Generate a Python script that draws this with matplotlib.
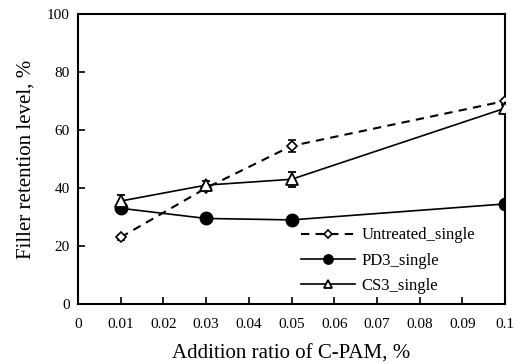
import matplotlib

matplotlib.use("Agg")
import matplotlib.pyplot as plt

plt.rcParams["font.family"] = ["Liberation Serif", "DejaVu Serif"]

x = [0.01, 0.03, 0.05, 0.1]
untreated = [23.0, 40.0, 54.5, 70.0]
untreated_err = [0.8, 1.0, 2.2, 0.8]
pd3 = [33.0, 29.5, 29.0, 34.5]
pd3_err = [0.5, 0.5, 0.5, 0.5]
cs3 = [35.5, 41.0, 43.0, 67.5]
cs3_err = [2.0, 1.5, 2.5, 1.0]

x_ticks = [0, 0.01, 0.02, 0.03, 0.04, 0.05, 0.06, 0.07, 0.08, 0.09, 0.1]
x_tick_labels = ["0", "0.01", "0.02", "0.03", "0.04", "0.05", "0.06", "0.07", "0.08", "0.09", "0.1"]
y_ticks = [0, 20, 40, 60, 80, 100]

fig = plt.figure(figsize=(5.15, 3.64), dpi=100)
ax = fig.add_axes([78 / 515, 60 / 364, 427 / 515, 290 / 364])

c1 = ax.errorbar(x, untreated, yerr=untreated_err, color="black", ls=(0, (4, 3)), lw=1.5,
                 marker="D", ms=5, mfc="white", mec="black", mew=1.2,
                 capsize=3, elinewidth=1.2, label="Untreated_single", zorder=3)
c2 = ax.errorbar(x, pd3, yerr=pd3_err, color="black", ls="-", lw=1.2,
                 marker="o", ms=9, mfc="black", mec="black",
                 capsize=3, elinewidth=1.2, label="PD3_single", zorder=3)
c3 = ax.errorbar(x, cs3, yerr=cs3_err, color="black", ls="-", lw=1.2,
                 marker="^", ms=8, mfc="white", mec="black", mew=1.3,
                 capsize=3, elinewidth=1.2, label="CS3_single", zorder=4)

ax.set_xlim(0, 0.1)
ax.set_ylim(0, 100)
ax.set_xticks(x_ticks)
ax.set_xticklabels(x_tick_labels)
ax.set_yticks(y_ticks)
ax.tick_params(direction="in", length=5, width=1.2, labelsize=11)
ax.tick_params(axis="x", pad=10)
ax.tick_params(axis="y", pad=6)
for spine in ax.spines.values():
    spine.set_linewidth(1.5)

ax.set_xlabel("Addition ratio of C-PAM, %", fontsize=15, labelpad=10)
ax.set_ylabel("Filler retention level, %", fontsize=15, labelpad=8)

handles = [c1[0], c2[0], c3[0]]
labels = ["Untreated_single", "PD3_single", "CS3_single"]
ax.legend(handles, labels, loc="lower right", bbox_to_anchor=(0.957, -0.005), frameon=False,
          fontsize=12, handlelength=3.2, labelspacing=0.55, handletextpad=0.4,
          borderaxespad=0.3, markerscale=0.75)

fig.savefig("out.png", dpi=100)
plt.close(fig)
